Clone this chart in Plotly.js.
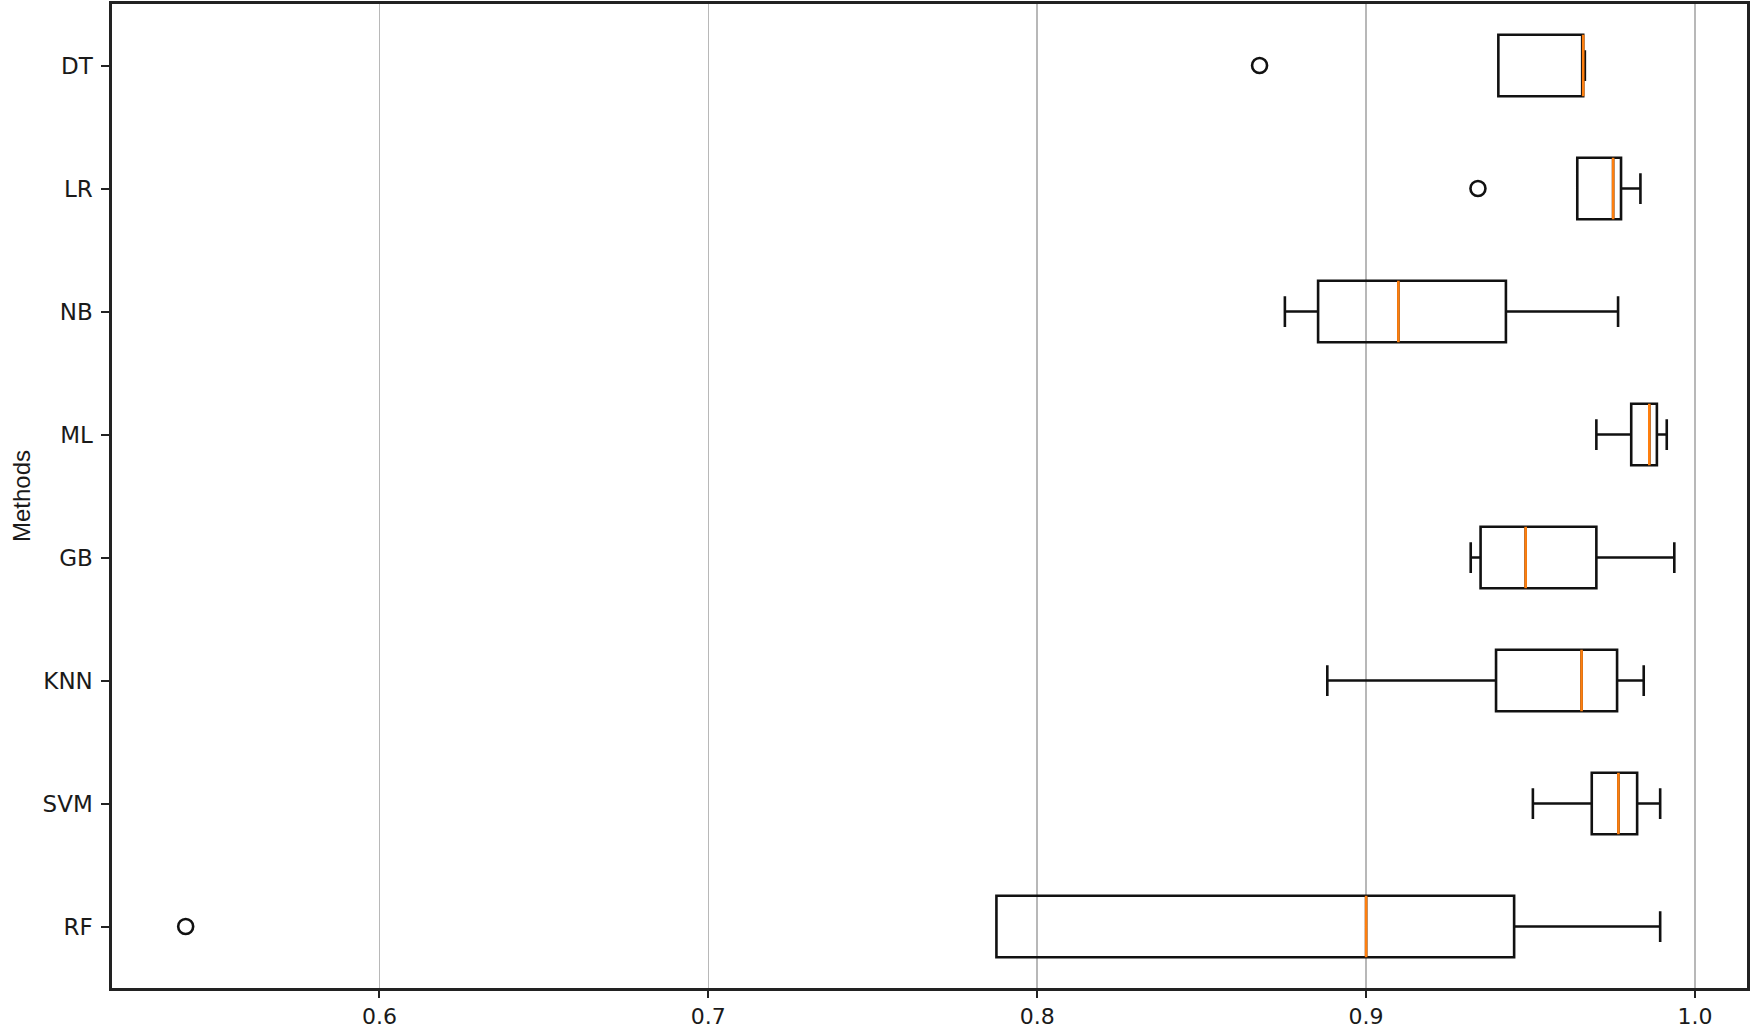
<!DOCTYPE html>
<html>
<head>
<meta charset="utf-8">
<script src="https://cdn.plot.ly/plotly-3.0.1.min.js"></script>
<style>
  html, body { margin: 0; padding: 0; background: #fff; }
  #chart { width: 1755px; height: 1029px; }
</style>
</head>
<body>
<div id="chart"></div>
<script>
// methods, bottom to top (matplotlib boxplot positions 1..8)
const methods = ['RF', 'SVM', 'KNN', 'GB', 'ML', 'NB', 'LR', 'DT'];
const positions = [1, 2, 3, 4, 5, 6, 7, 8];

// box statistics
const lowerWhisker = [0.7876, 0.9507, 0.8882, 0.9318, 0.9700, 0.8753, 0.9642, 0.9402];
const q1Values     = [0.7876, 0.9686, 0.9395, 0.9348, 0.9806, 0.8854, 0.9642, 0.9402];
const medianValues = [0.9000, 0.9767, 0.9655, 0.9485, 0.9861, 0.9098, 0.9751, 0.9660];
const q3Values     = [0.9450, 0.9824, 0.9763, 0.9700, 0.9884, 0.9425, 0.9775, 0.9660];
const upperWhisker = [0.9894, 0.9894, 0.9844, 0.9937, 0.9914, 0.9766, 0.9834, 0.9665];

// fliers
const outlierValues = [0.5411, 0.9340, 0.8676];
const outlierMethods = [1, 7, 8];

const xTicks = [0.6, 0.7, 0.8, 0.9, 1.0];
const xTickText = ['0.6', '0.7', '0.8', '0.9', '1.0'];

const boxHalf = 0.25;
const tickFont = { family: 'DejaVu Sans', size: 23, color: '#1a1a1a' };

const boxTrace = {
    type: 'box',
    orientation: 'h',
    y: positions,
    q1: q1Values,
    median: medianValues,
    q3: q3Values,
    lowerfence: lowerWhisker,
    upperfence: upperWhisker,
    width: 2 * boxHalf,
    whiskerwidth: 0.5,
    boxpoints: false,
    line: { color: '#111', width: 2.6 },
    fillcolor: 'rgba(0,0,0,0)',
    hoverinfo: 'skip',
    showlegend: false
};

// orange median lines on top of the boxes
const medX = [];
const medY = [];
medianValues.forEach((m, i) => {
    medX.push(m, m, null);
    medY.push(positions[i] - boxHalf, positions[i] + boxHalf, null);
});

const medianTrace = {
    type: 'scatter',
    mode: 'lines',
    x: medX,
    y: medY,
    line: { color: '#ff7f0e', width: 2.6 },
    hoverinfo: 'skip',
    showlegend: false
};

const outlierTrace = {
    type: 'scatter',
    mode: 'markers',
    x: outlierValues,
    y: outlierMethods,
    marker: {
        symbol: 'circle-open',
        size: 15,
        color: '#111',
        line: { color: '#111', width: 2.6 }
    },
    hoverinfo: 'skip',
    showlegend: false
};

const layout = {
    width: 1755,
    height: 1029,
    margin: { l: 112, r: 8, t: 4, b: 41 },
    paper_bgcolor: '#fff',
    plot_bgcolor: '#fff',
    showlegend: false,
    xaxis: {
        range: [0.5187, 1.0158],
        tickvals: xTicks,
        ticktext: xTickText,
        ticks: 'outside',
        ticklen: 7,
        tickwidth: 2,
        tickcolor: '#222',
        tickfont: { family: 'DejaVu Sans', size: 22, color: '#1a1a1a' },
        showgrid: true,
        gridcolor: '#b8b8b8',
        gridwidth: 1.5,
        zeroline: false,
        showline: true,
        linecolor: '#222',
        linewidth: 2.6,
        mirror: true
    },
    yaxis: {
        range: [0.5, 8.5],
        tickvals: positions,
        ticktext: methods,
        ticks: 'outside',
        ticklen: 8,
        tickwidth: 2,
        tickcolor: '#222',
        tickfont: tickFont,
        ticklabelstandoff: 4,
        showgrid: false,
        zeroline: false,
        showline: true,
        linecolor: '#222',
        linewidth: 2.6,
        mirror: true,
        title: {
            text: 'Methods',
            font: { family: 'Liberation Sans', size: 24, color: '#1a1a1a' },
            standoff: 6
        }
    }
};

Plotly.newPlot('chart', [boxTrace, medianTrace, outlierTrace], layout, { displayModeBar: false, staticPlot: true });
</script>
</body>
</html>
